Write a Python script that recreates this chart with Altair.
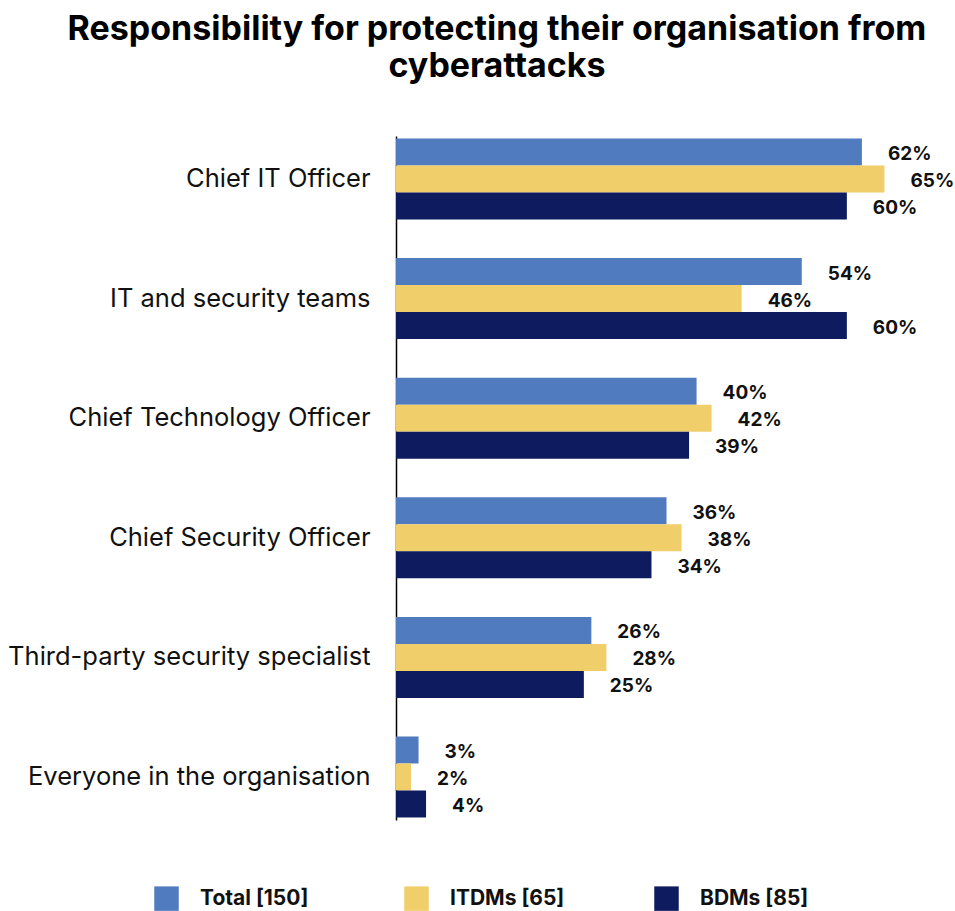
import altair as alt
import pandas as pd

categories = [
    "Chief IT Officer",
    "IT and security teams",
    "Chief Technology Officer",
    "Chief Security Officer",
    "Third-party security specialist",
    "Everyone in the organisation",
]
series = ["Total [150]", "ITDMs [65]", "BDMs [85]"]
total = [62, 54, 40, 36, 26, 3]
itdms = [65, 46, 42, 38, 28, 2]
bdms = [60, 60, 39, 34, 25, 4]
colors = ["#517BBF", "#F0CE6A", "#0E1B5E"]

rows = []
for s, vals in zip(series, [total, itdms, bdms]):
    for c, v in zip(categories, vals):
        rows.append({"category": c, "series": s, "value": v, "label": f"{v}%"})
df = pd.DataFrame(rows)

FONT = "Inter"

base = alt.Chart(df).encode(
    y=alt.Y(
        "category:N",
        sort=categories,
        scale=alt.Scale(paddingInner=0.3227, paddingOuter=0.021),
        axis=alt.Axis(
            title=None,
            domain=True,
            domainColor="#000000",
            domainWidth=1.5,
            ticks=False,
            grid=False,
            labelPadding=26,
            labelFontSize=25.5,
            labelFont=FONT,
            labelColor="#111111",
            labelLimit=400,
        ),
    ),
    yOffset=alt.YOffset("series:N", sort=series, scale=alt.Scale(paddingInner=0, paddingOuter=0)),
)

bars = base.mark_bar().encode(
    x=alt.X("value:Q", scale=alt.Scale(domain=[0, 70]), axis=None),
    color=alt.Color(
        "series:N",
        sort=series,
        scale=alt.Scale(domain=series, range=colors),
        legend=alt.Legend(
            title=None,
            orient="none",
            legendX=-242,
            legendY=750,
            direction="horizontal",
            columns=3,
            gridAlign="all",
            columnPadding=89,
            symbolType="square",
            symbolSize=600,
            symbolStrokeWidth=0,
            labelFontSize=21,
            labelFontWeight="bold",
            labelFont=FONT,
            labelColor="#111111",
            labelOffset=21,
            padding=0,
        ),
    ),
)

text = base.mark_text(
    align="left", baseline="middle", dx=26, dy=2, font=FONT, fontWeight="bold", fontSize=19, color="#111111"
).encode(x=alt.X("value:Q"), text="label:N")

chart = (
    alt.layer(bars, text)
    .properties(
        width=526,
        height=684,
        padding={"left": 396, "top": 136, "right": 33, "bottom": 91},
        autosize=alt.AutoSizeParams(type="none"),
        title=alt.TitleParams(
            text=["Responsibility for protecting their organisation from", "cyberattacks"],
            font=FONT,
            fontSize=34,
            fontWeight="bold",
            color="#000000",
            anchor="middle",
            frame="group",
            dx=-162,
            offset=52,
            lineHeight=37,
        ),
    )
    .configure_view(stroke=None)
)

chart.save("out.html", embed_options={"renderer": "svg", "actions": False})
